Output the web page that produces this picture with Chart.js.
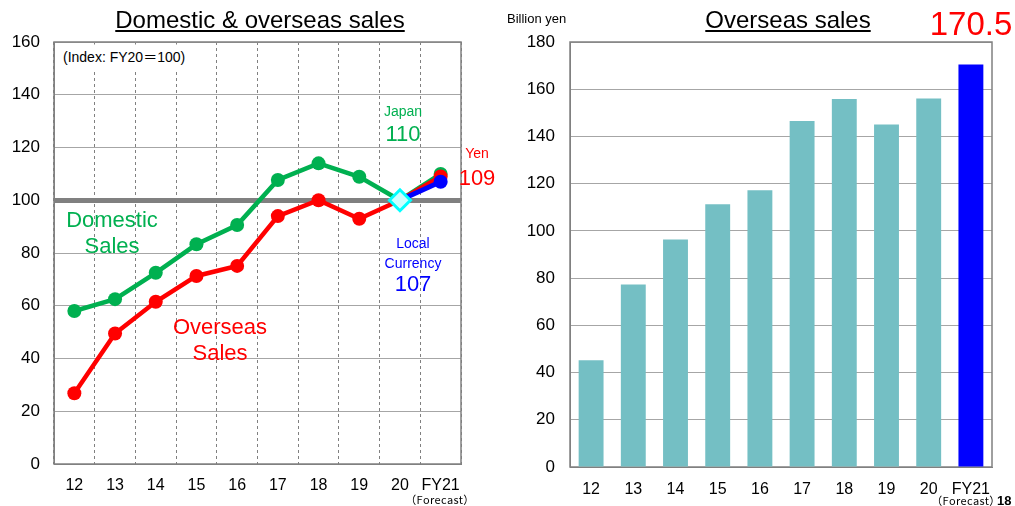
<!DOCTYPE html>
<html>
<head>
<meta charset="utf-8">
<script src="https://cdn.jsdelivr.net/npm/chart.js@4.4.0/dist/chart.umd.min.js"></script>
<style>
  body { margin: 0; width: 1015px; height: 506px; overflow: hidden; background: #fff; position: relative;
         font-family: 'Liberation Sans', Arial, 'Noto Sans CJK JP', sans-serif; }
  .caja { position: absolute; top: 0; height: 506px; }
  .t { position: absolute; white-space: nowrap; line-height: 1; transform: translate(-50%, -50%); }
  .i { transform: translate(0, -50%); }
  .fc { font-family: 'Noto Sans CJK JP', 'Liberation Sans', sans-serif; font-size: 11px; letter-spacing: 0.4px; }
</style>
</head>
<body>
<div class="caja" style="left:0;width:480px"><canvas id="indice"></canvas></div>
<div class="caja" style="left:500px;width:515px"><canvas id="ventas"></canvas></div>

<div class="t" style="left:260px;top:20px;font-size:24px;text-decoration:underline">Domestic &amp; overseas sales</div>
<div class="t" style="left:788px;top:20px;font-size:24px;text-decoration:underline">Overseas sales</div>
<div class="t i" style="left:507px;top:18px;font-size:13px">Billion yen</div>
<div class="t" style="left:971px;top:23px;font-size:33px;color:#ff0000">170.5</div>

<div class="t i" style="left:58px;top:57px;font-size:14px;background:#fff;padding:5px 5px 6px">(Index: FY20＝100)</div>
<div class="t" style="left:403px;top:111px;font-size:14px;color:#00b050">Japan</div>
<div class="t" style="left:403px;top:134px;font-size:22px;color:#00b050">110</div>
<div class="t" style="left:477px;top:153px;font-size:14px;color:#ff0000">Yen</div>
<div class="t" style="left:477px;top:178px;font-size:22px;color:#ff0000">109</div>
<div class="t" style="left:112px;top:220px;font-size:22px;color:#00b050">Domestic</div>
<div class="t" style="left:112px;top:246px;font-size:22px;color:#00b050">Sales</div>
<div class="t" style="left:220px;top:327px;font-size:22px;color:#ff0000">Overseas</div>
<div class="t" style="left:220px;top:353px;font-size:22px;color:#ff0000">Sales</div>
<div class="t" style="left:413px;top:243px;font-size:14px;color:#0000ff">Local</div>
<div class="t" style="left:413px;top:263px;font-size:14px;color:#0000ff">Currency</div>
<div class="t" style="left:413px;top:284px;font-size:22px;color:#0000ff">107</div>
<div class="t fc" style="left:440px;top:499px">（Forecast）</div>
<div class="t fc" style="left:966px;top:500px">（Forecast）</div>
<div class="t i" style="left:997px;top:500px;font-size:13px;font-weight:bold">18</div>

<script>
const anios = ['12', '13', '14', '15', '16', '17', '18', '19', '20', 'FY21'];

// indice FY20 = 100
const domesticas = [58, 62.5, 72.5, 83.3, 90.6, 107.7, 114, 108.9, 100, 110];
const extranjero = [26.8, 49.5, 61.5, 71.3, 75.1, 94, 100, 93, 100, 109];
const monedaLocal = [null, null, null, null, null, null, null, null, 100, 107];
const base = [null, null, null, null, null, null, null, null, 100, null];

// miles de millones de yenes
const ventasExterior = [45.2, 77.3, 96.4, 111.3, 117.2, 146.5, 155.9, 145.1, 156.1, 170.5];

Chart.defaults.font.family = "'Liberation Sans', Arial, sans-serif";
Chart.defaults.color = '#000';

const marco = {
  id: 'marco',
  beforeDatasetsDraw(chart) {
    const { ctx, chartArea: a } = chart;
    ctx.save();
    ctx.strokeStyle = '#808080';
    ctx.lineWidth = 1.5;
    ctx.strokeRect(a.left, a.top, a.right - a.left, a.bottom - a.top);
    ctx.restore();
  }
};

const radios = anios.map((_, i) => i === 8 ? 0 : 7);

new Chart(document.getElementById('indice'), {
  type: 'line',
  data: {
    labels: anios,
    datasets: [
      {
        data: base, pointStyle: 'rectRot', pointRadius: 10.5, pointBorderWidth: 3,
        pointBackgroundColor: '#ccffff', pointBorderColor: '#00ffff', showLine: false
      },
      {
        data: monedaLocal, borderColor: '#0000ff', borderWidth: 5,
        pointRadius: [0, 0, 0, 0, 0, 0, 0, 0, 0, 7], pointBackgroundColor: '#0000ff', pointBorderWidth: 0
      },
      {
        data: extranjero, borderColor: '#ff0000', borderWidth: 4.5,
        pointRadius: radios, pointBackgroundColor: '#ff0000', pointBorderWidth: 0
      },
      {
        data: domesticas, borderColor: '#00b050', borderWidth: 4.5,
        pointRadius: radios, pointBackgroundColor: '#00b050', pointBorderWidth: 0
      }
    ]
  },
  options: {
    responsive: true,
    maintainAspectRatio: false,
    animation: false,
    layout: { padding: { top: 42, right: 19, left: 0, bottom: 0 } },
    plugins: { legend: { display: false }, tooltip: { enabled: false } },
    scales: {
      x: {
        offset: true,
        grid: { offset: true, color: '#808080', lineWidth: 1, drawTicks: false },
        border: { color: '#808080', dash: [3, 3] },
        ticks: { font: { size: 16 }, padding: 12, maxRotation: 0, autoSkip: false },
        afterFit: s => { s.height = 42; }
      },
      y: {
        min: 0, max: 160,
        ticks: { stepSize: 20, font: { size: 17 }, padding: 14 },
        grid: {
          drawTicks: false,
          color: c => c.tick && c.tick.value === 100 ? '#808080' : '#a6a6a6',
          lineWidth: c => c.tick && c.tick.value === 100 ? 5 : 1
        },
        border: { color: '#808080' },
        afterFit: s => { s.width = 54; }
      }
    }
  },
  plugins: [marco]
});

new Chart(document.getElementById('ventas'), {
  type: 'bar',
  data: {
    labels: anios,
    datasets: [{
      data: ventasExterior,
      backgroundColor: anios.map((_, i) => i === anios.length - 1 ? '#0000ff' : '#74bfc4'),
      barPercentage: 0.59,
      categoryPercentage: 1
    }]
  },
  options: {
    responsive: true,
    maintainAspectRatio: false,
    animation: false,
    layout: { padding: { top: 42, right: 23, left: 0, bottom: 0 } },
    plugins: { legend: { display: false }, tooltip: { enabled: false } },
    scales: {
      x: {
        grid: { display: false },
        border: { color: '#808080' },
        ticks: { font: { size: 16 }, padding: 5, maxRotation: 0, autoSkip: false },
        afterFit: s => { s.height = 39; }
      },
      y: {
        min: 0, max: 180,
        ticks: { stepSize: 20, font: { size: 17 }, padding: 15 },
        grid: { drawTicks: false, color: '#a6a6a6' },
        border: { color: '#808080' },
        afterFit: s => { s.width = 70; }
      }
    }
  },
  plugins: [marco]
});
</script>
</body>
</html>
